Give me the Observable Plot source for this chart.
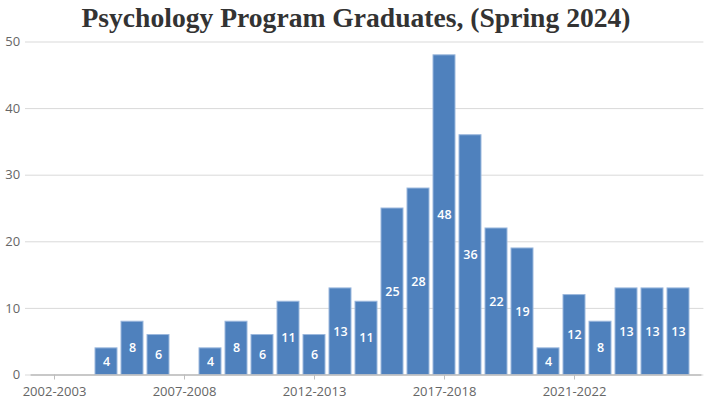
<!DOCTYPE html>
<html>
<head>
<meta charset="utf-8">
<script src="https://cdn.jsdelivr.net/npm/d3@7"></script>
<script src="https://cdn.jsdelivr.net/npm/@observablehq/plot@0.6"></script>
<style>
  html, body { margin: 0; padding: 0; background: #fff; }
  #title { height: 30px; line-height: 36px; text-align: center; font-family: "Liberation Serif", "Times New Roman", serif; font-weight: bold; font-size: 27.6px; color: #333; white-space: nowrap; overflow: visible; }
  #chart svg { display: block; overflow: visible; }
</style>
</head>
<body>
<div id="title">Psychology Program Graduates, (Spring 2024)</div>
<div id="chart"></div>
<script>
const years = [
  "2002-2003","2003-2004","2004-2005","2005-2006","2006-2007",
  "2007-2008","2008-2009","2009-2010","2010-2011","2011-2012",
  "2012-2013","2013-2014","2014-2015","2015-2016","2016-2017",
  "2017-2018","2018-2019","2019-2020","2020-2021","2020-2021 (Summer)",
  "2021-2022","2022-2023","2023-2024","2024-2025","2025-2026"
];
const graduates = [0,0,4,8,6, 0,4,8,6,11, 6,13,11,25,28, 48,36,22,19,4, 12,8,13,13,13];
const xTickLabels = ["2002-2003","2007-2008","2012-2013","2017-2018","2021-2022"];
const yTicks = [0,10,20,30,40,50];

const data = years.map((y, i) => ({year: y, value: graduates[i]}));
const shown = data.filter(d => d.value > 0);

const chart = Plot.plot({
  width: 712,
  height: 374,
  marginTop: 11.5,
  marginBottom: 29.5,
  marginLeft: 30.6,
  marginRight: 10.6,
  style: {fontFamily: "'Open Sans', 'Noto Sans', sans-serif", fontSize: "13px", color: "#666", overflow: "visible"},
  x: {domain: years, paddingInner: 0.14, paddingOuter: 0.07, label: null},
  y: {domain: [0, 50], label: null},
  marks: [
    Plot.gridY(yTicks, {stroke: "#d9d9d9", strokeOpacity: 1, insetLeft: -5.6, insetRight: -2}),
    Plot.axisY(yTicks, {tickSize: 0, tickPadding: 11, fill: "#666", fontSize: 13, label: null}),
    Plot.barY(shown, {x: "year", y: "value", fill: "#4f81bd", stroke: "#9bb8dd", strokeWidth: 1}),
    Plot.text(shown, {x: "year", y: d => d.value / 2, text: d => String(d.value), fill: "white", fontWeight: 600, fontSize: 12.5}),
    Plot.ruleY([0], {stroke: "#bdbdbd", strokeWidth: 1.5}),
    Plot.axisX(xTickLabels, {tickSize: 5, tickPadding: 7, stroke: "#bdbdbd", fill: "#666", fontSize: 13, label: null})
  ]
});
document.getElementById("chart").appendChild(chart);
</script>
</body>
</html>
